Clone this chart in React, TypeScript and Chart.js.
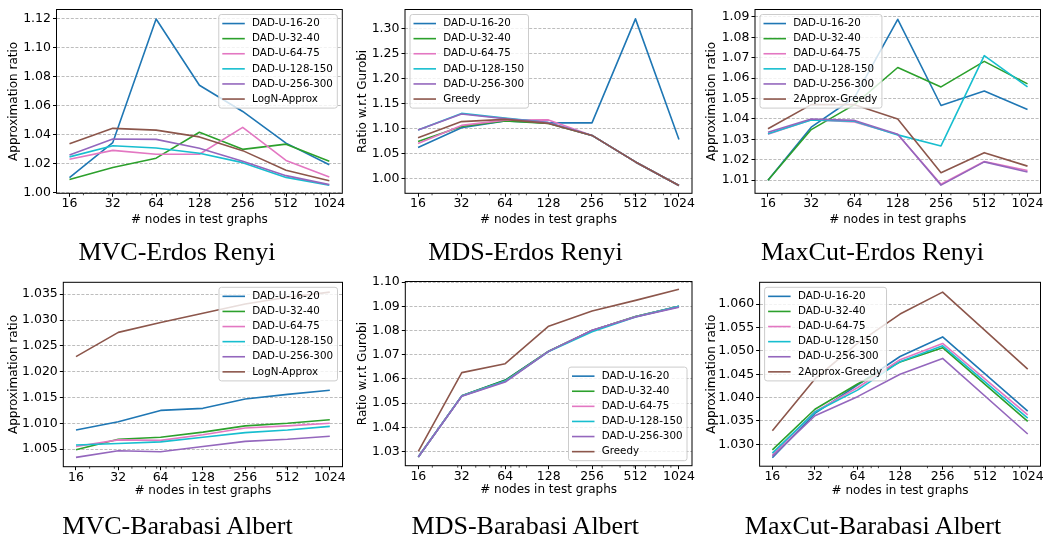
import React, { useEffect, useRef } from "react";
import { Chart, registerables } from "chart.js";
Chart.register(...registerables);

// ---------- data ----------
const NODES = [16, 32, 64, 128, 256, 512, 1024];
const X_TICKS = [16, 32, 64, 128, 256, 512, 1024];
const X_MINOR = [20, 30, 40, 50, 60, 70, 80, 90, 200, 300, 400, 500, 600, 700, 800, 900];
const DAD_LABELS = ["DAD-U-16-20", "DAD-U-32-40", "DAD-U-64-75", "DAD-U-128-150", "DAD-U-256-300"];
const COLORS = ["#1f77b4", "#2ca02c", "#e377c2", "#17becf", "#9467bd", "#8c564b"];

// MVC - Erdos Renyi
const MVC_ER_U16 = [1.0102, 1.0344, 1.1198, 1.074, 1.0559, 1.034, 1.019];
const MVC_ER_U32 = [1.0088, 1.0172, 1.0236, 1.0415, 1.0297, 1.0333, 1.0214];
const MVC_ER_U64 = [1.0228, 1.029, 1.0263, 1.0263, 1.0449, 1.022, 1.0106];
const MVC_ER_U128 = [1.0245, 1.0322, 1.0306, 1.027, 1.0205, 1.0103, 1.0049];
const MVC_ER_U256 = [1.0258, 1.0368, 1.0366, 1.0305, 1.0215, 1.0115, 1.0053];
const MVC_ER_LOGN = [1.0336, 1.0442, 1.043, 1.0383, 1.0288, 1.0152, 1.008];
const MVC_ER_YTICKS = [1.0, 1.02, 1.04, 1.06, 1.08, 1.1, 1.12];

// MDS - Erdos Renyi
const MDS_ER_U16 = [1.0629, 1.1022, 1.116, 1.112, 1.112, 1.32, 1.079];
const MDS_ER_U32 = [1.0747, 1.105, 1.116, 1.111, 1.087, 1.034, 0.987];
const MDS_ER_U64 = [1.0707, 1.107, 1.1175, 1.118, 1.087, 1.034, 0.987];
const MDS_ER_U128 = [1.0976, 1.131, 1.1215, 1.1125, 1.087, 1.034, 0.987];
const MDS_ER_U256 = [1.0976, 1.1297, 1.1205, 1.1125, 1.087, 1.034, 0.987];
const MDS_ER_GREEDY = [1.0825, 1.1146, 1.119, 1.111, 1.087, 1.034, 0.987];
const MDS_ER_YTICKS = [1.0, 1.05, 1.1, 1.15, 1.2, 1.25, 1.3];

// MaxCut - Erdos Renyi
const MC_ER_U16 = [1.01, 1.036, 1.0505, 1.0888, 1.0466, 1.0537, 1.0446];
const MC_ER_U32 = [1.01, 1.0348, 1.047, 1.0652, 1.0557, 1.0682, 1.0572];
const MC_ER_U64 = [1.0325, 1.0396, 1.0385, 1.0324, 1.008, 1.0192, 1.0148];
const MC_ER_U128 = [1.0328, 1.0395, 1.0389, 1.0322, 1.0268, 1.071, 1.0557];
const MC_ER_U256 = [1.0335, 1.04, 1.0393, 1.0325, 1.0076, 1.019, 1.014];
const MC_ER_GREEDY = [1.0352, 1.047, 1.047, 1.04, 1.0137, 1.0235, 1.0169];
const MC_ER_YTICKS = [1.01, 1.02, 1.03, 1.04, 1.05, 1.06, 1.07, 1.08, 1.09];

// MVC - Barabasi Albert
const MVC_BA_U16 = [1.0087, 1.0103, 1.0125, 1.0129, 1.0147, 1.0156, 1.0164];
const MVC_BA_U32 = [1.0049, 1.0069, 1.0073, 1.0083, 1.0095, 1.01, 1.0107];
const MVC_BA_U64 = [1.0055, 1.0068, 1.0067, 1.0078, 1.0091, 1.0095, 1.01];
const MVC_BA_U128 = [1.0058, 1.0061, 1.0064, 1.0073, 1.0082, 1.0087, 1.0094];
const MVC_BA_U256 = [1.0034, 1.0047, 1.0045, 1.0055, 1.0065, 1.0069, 1.0075];
const MVC_BA_LOGN = [1.0229, 1.0276, 1.0295, 1.0313, 1.0331, 1.0344, 1.0354];
const MVC_BA_YTICKS = [1.005, 1.01, 1.015, 1.02, 1.025, 1.03, 1.035];

// MDS - Barabasi Albert
const MDS_BA_U16 = [1.0277, 1.053, 1.0595, 1.0715, 1.08, 1.0858, 1.09];
const MDS_BA_U32 = [1.0277, 1.053, 1.0594, 1.0715, 1.08, 1.0858, 1.09];
const MDS_BA_U64 = [1.0278, 1.0529, 1.059, 1.0714, 1.08, 1.0857, 1.0899];
const MDS_BA_U128 = [1.0278, 1.0529, 1.059, 1.0713, 1.0795, 1.0856, 1.09];
const MDS_BA_U256 = [1.0277, 1.0528, 1.0587, 1.0714, 1.0801, 1.0856, 1.0897];
const MDS_BA_GREEDY = [1.03, 1.0626, 1.0663, 1.0818, 1.0881, 1.0925, 1.0971];
const MDS_BA_YTICKS = [1.03, 1.04, 1.05, 1.06, 1.07, 1.08, 1.09, 1.1];

// MaxCut - Barabasi Albert (no value at 512)
const MC_BA_U16 = [1.0271, 1.0366, 1.0427, 1.0488, 1.053, null, 1.0371];
const MC_BA_U32 = [1.0288, 1.0375, 1.0429, 1.0476, 1.0507, null, 1.0349];
const MC_BA_U64 = [1.0277, 1.037, 1.0421, 1.0481, 1.0516, null, 1.0363];
const MC_BA_U128 = [1.0281, 1.0369, 1.0416, 1.0477, 1.0511, null, 1.0356];
const MC_BA_U256 = [1.0274, 1.0361, 1.0402, 1.045, 1.0484, null, 1.0322];
const MC_BA_GREEDY = [1.0329, 1.044, 1.0516, 1.0579, 1.0626, null, 1.0461];
const MC_BA_YTICKS = [1.03, 1.035, 1.04, 1.045, 1.05, 1.055, 1.06];

// ---------- panel configuration ----------
const AR = "Approximation ratio";
const RG = "Ratio w.r.t Gurobi";
const XLABEL = "# nodes in test graphs";

type PanelCfg = {
  title: string; yLabel: string; series: (number | null)[][]; baseline: string;
  yMin: number; yMax: number; yTicks: number[]; dec: number; legend: string;
  cl: number; ct: number; cw: number; ch: number;
  pl: number; pr: number; pt: number; pb: number;
  yTitleX: number; xTitleOff: number; titleX: number; titleBase: number;
};

const PANELS: PanelCfg[] = [
  { title: "MVC-Erdos Renyi", yLabel: AR, baseline: "LogN-Approx",
    series: [MVC_ER_U16, MVC_ER_U32, MVC_ER_U64, MVC_ER_U128, MVC_ER_U256, MVC_ER_LOGN],
    yMin: 0.9993, yMax: 1.1264, yTicks: MVC_ER_YTICKS, dec: 2, legend: "ur",
    cl: 0, ct: 0, cw: 346, ch: 238, pl: 56.5, pr: 342.3, pt: 6.3, pb: 193.3,
    yTitleX: 14.3, xTitleOff: 26.2, titleX: 177, titleBase: 261 },
  { title: "MDS-Erdos Renyi", yLabel: RG, baseline: "Greedy",
    series: [MDS_ER_U16, MDS_ER_U32, MDS_ER_U64, MDS_ER_U128, MDS_ER_U256, MDS_ER_GREEDY],
    yMin: 0.9713, yMax: 1.3387, yTicks: MDS_ER_YTICKS, dec: 2, legend: "ul",
    cl: 348, ct: 0, cw: 347, ch: 238, pl: 405, pr: 692, pt: 6.3, pb: 193.3,
    yTitleX: 362.4, xTitleOff: 26.2, titleX: 525.5, titleBase: 261 },
  { title: "MaxCut-Erdos Renyi", yLabel: AR, baseline: "2Approx-Greedy",
    series: [MC_ER_U16, MC_ER_U32, MC_ER_U64, MC_ER_U128, MC_ER_U256, MC_ER_GREEDY],
    yMin: 1.0036, yMax: 1.0936, yTicks: MC_ER_YTICKS, dec: 2, legend: "ul",
    cl: 698, ct: 0, cw: 346, ch: 238, pl: 755, pr: 1040.5, pt: 6.5, pb: 193.3,
    yTitleX: 712, xTitleOff: 26.2, titleX: 872.5, titleBase: 261 },
  { title: "MVC-Barabasi Albert", yLabel: AR, baseline: "LogN-Approx",
    series: [MVC_BA_U16, MVC_BA_U32, MVC_BA_U64, MVC_BA_U128, MVC_BA_U256, MVC_BA_LOGN],
    yMin: 1.0016, yMax: 1.0373, yTicks: MVC_BA_YTICKS, dec: 3, legend: "ur",
    cl: 0, ct: 272, cw: 346, ch: 239, pl: 63.3, pr: 342.5, pt: 282.3, pb: 466.7,
    yTitleX: 14.3, xTitleOff: 24.4, titleX: 177.5, titleBase: 534.5 },
  { title: "MDS-Barabasi Albert", yLabel: RG, baseline: "Greedy",
    series: [MDS_BA_U16, MDS_BA_U32, MDS_BA_U64, MDS_BA_U128, MDS_BA_U256, MDS_BA_GREEDY],
    yMin: 1.0241, yMax: 1.1003, yTicks: MDS_BA_YTICKS, dec: 2, legend: "lr",
    cl: 348, ct: 272, cw: 347, ch: 238, pl: 405.3, pr: 692, pt: 280.3, pb: 465.7,
    yTitleX: 362.7, xTitleOff: 24.4, titleX: 525.3, titleBase: 534.5 },
  { title: "MaxCut-Barabasi Albert", yLabel: AR, baseline: "2Approx-Greedy",
    series: [MC_BA_U16, MC_BA_U32, MC_BA_U64, MC_BA_U128, MC_BA_U256, MC_BA_GREEDY],
    yMin: 1.0253, yMax: 1.0647, yTicks: MC_BA_YTICKS, dec: 3, legend: "ul",
    cl: 698, ct: 272, cw: 346, ch: 239, pl: 759.6, pr: 1040.5, pt: 282.3, pb: 466.2,
    yTitleX: 712, xTitleOff: 24.4, titleX: 873, titleBase: 534.5 },
];

const X_H = 44;
const FONT = '"DejaVu Sans"';
const TICK_FS = 12.5;
const LEGEND_FS = 10.3;

// frame + minor ticks + matplotlib-style legend
const mplPlugin = {
  id: "mplDecor",
  afterDraw(chart: any, _args: any, opts: any) {
    const { ctx, chartArea: a } = chart;
    ctx.save();
    // frame
    ctx.strokeStyle = "#000";
    ctx.lineWidth = 1;
    ctx.strokeRect(a.left, a.top, a.right - a.left, a.bottom - a.top);
    // minor x ticks
    const xs = chart.scales.x;
    ctx.lineWidth = 0.7;
    X_MINOR.forEach((v) => {
      if (v <= xs.min || v >= xs.max) return;
      const px = xs.getPixelForValue(v);
      ctx.beginPath();
      ctx.moveTo(px, a.bottom);
      ctx.lineTo(px, a.bottom + 2);
      ctx.stroke();
    });
    // legend
    const ds = chart.data.datasets;
    ctx.font = `${LEGEND_FS}px ${FONT}`;
    const maxW = Math.max(...ds.map((d: any) => ctx.measureText(d.label).width));
    const rowH = 15.1, pad = 1.5, m = 5;
    const w = 33.3 + maxW + 4.5;
    const h = pad * 2 + rowH * ds.length;
    const corner: string = opts.corner;
    const x = corner[1] === "r" ? a.right - m - w : a.left + m;
    const y = corner[0] === "u" ? a.top + m : a.bottom - m - h;
    const r = 2.5;
    ctx.beginPath();
    ctx.moveTo(x + r, y);
    ctx.lineTo(x + w - r, y);
    ctx.arcTo(x + w, y, x + w, y + r, r);
    ctx.lineTo(x + w, y + h - r);
    ctx.arcTo(x + w, y + h, x + w - r, y + h, r);
    ctx.lineTo(x + r, y + h);
    ctx.arcTo(x, y + h, x, y + h - r, r);
    ctx.lineTo(x, y + r);
    ctx.arcTo(x, y, x + r, y, r);
    ctx.closePath();
    ctx.fillStyle = "rgba(255,255,255,0.8)";
    ctx.fill();
    ctx.strokeStyle = "#cccccc";
    ctx.lineWidth = 1;
    ctx.stroke();
    ds.forEach((d: any, i: number) => {
      const cy = y + pad + rowH * (i + 0.5);
      ctx.beginPath();
      ctx.moveTo(x + 3.5, cy);
      ctx.lineTo(x + 26, cy);
      ctx.strokeStyle = d.borderColor;
      ctx.lineWidth = 1.6;
      ctx.stroke();
      ctx.fillStyle = "#000";
      ctx.textAlign = "left";
      ctx.textBaseline = "middle";
      ctx.fillText(d.label, x + 33.3, cy);
    });
    ctx.restore();
  },
};

function buildConfig(p: PanelCfg): any {
  const labels = [...DAD_LABELS, p.baseline];
  const datasets = p.series.map((vals, i) => ({
    label: labels[i],
    data: NODES.map((n, j) => ({ x: n, y: vals[j] })),
    borderColor: COLORS[i],
    backgroundColor: COLORS[i],
    borderWidth: 1.6,
    pointRadius: 0,
    pointHoverRadius: 0,
    fill: false,
    tension: 0,
    spanGaps: true,
    borderJoinStyle: "round",
    order: -i,
  }));
  const padT = p.pt - p.ct;
  const padR = p.cl + p.cw - p.pr;
  const yW = p.pl - p.cl;
  const padB = p.ct + p.ch - p.pb - X_H;
  return {
    type: "line",
    data: { datasets },
    plugins: [mplPlugin],
    options: {
      animation: false,
      responsive: false,
      devicePixelRatio: 1,
      events: [],
      layout: { padding: { left: 0, top: padT, right: padR, bottom: padB } },
      plugins: {
        legend: { display: false },
        tooltip: { enabled: false },
        title: { display: false },
        mplDecor: { corner: p.legend },
      },
      scales: {
        x: {
          type: "logarithmic",
          position: "bottom",
          min: Math.pow(2, 3.7),
          max: Math.pow(2, 10.3),
          bounds: "data",
          afterBuildTicks: (s: any) => { s.ticks = X_TICKS.map((v) => ({ value: v })); },
          afterFit: (s: any) => { s.height = X_H; },
          ticks: {
            autoSkip: false, maxRotation: 0, minRotation: 0, padding: -0.3,
            color: "#000", font: { family: FONT, size: TICK_FS },
            callback: (v: any) => String(v),
          },
          grid: { display: true, drawOnChartArea: false, drawTicks: true, tickLength: 3.5, tickColor: "#000", tickWidth: 1 },
          border: { display: false },
          title: {
            display: true, text: XLABEL, color: "#000",
            font: { family: FONT, size: 12 },
            padding: { top: 0, bottom: X_H - p.xTitleOff - 7.2 },
          },
        },
        y: {
          type: "linear",
          position: "left",
          min: p.yMin,
          max: p.yMax,
          bounds: "data",
          afterBuildTicks: (s: any) => { s.ticks = p.yTicks.map((v) => ({ value: v })); },
          afterFit: (s: any) => { s.width = yW; },
          ticks: {
            autoSkip: false, padding: 2, color: "#000",
            font: { family: FONT, size: TICK_FS },
            callback: (v: any) => Number(v).toFixed(p.dec),
          },
          grid: {
            display: true, drawOnChartArea: true, drawTicks: true, tickLength: 3.5,
            tickColor: "#000", tickWidth: 1, color: "#bdbdbd", lineWidth: 1,
          },
          border: { display: false, dash: [3, 1.6] },
          title: {
            display: true, text: p.yLabel, color: "#000",
            font: { family: FONT, size: 12 },
            padding: { top: p.yTitleX - p.cl - 7.2, bottom: 0 },
          },
        },
      },
    },
  };
}

function Panel({ p }: { p: PanelCfg }) {
  const ref = useRef<HTMLCanvasElement>(null);
  useEffect(() => {
    const chart = new Chart(ref.current as HTMLCanvasElement, buildConfig(p));
    return () => chart.destroy();
  }, [p]);
  return (
    <>
      <canvas
        ref={ref}
        width={p.cw}
        height={p.ch}
        style={{ position: "absolute", left: p.cl, top: p.ct, width: p.cw, height: p.ch }}
      />
      <div
        style={{
          position: "absolute",
          left: p.titleX - 200,
          width: 400,
          top: p.titleBase - 23.8,
          textAlign: "center",
          fontFamily: '"Liberation Serif", "Times New Roman", serif',
          fontSize: 26,
          lineHeight: "30px",
          color: "#000",
          whiteSpace: "nowrap",
        }}
      >
        {p.title}
      </div>
    </>
  );
}

export default function App() {
  return (
    <div style={{ position: "absolute", left: 0, top: 0, width: 1045, height: 539, background: "#fff", overflow: "hidden" }}>
      {PANELS.map((p, i) => (
        <Panel key={i} p={p} />
      ))}
    </div>
  );
}
